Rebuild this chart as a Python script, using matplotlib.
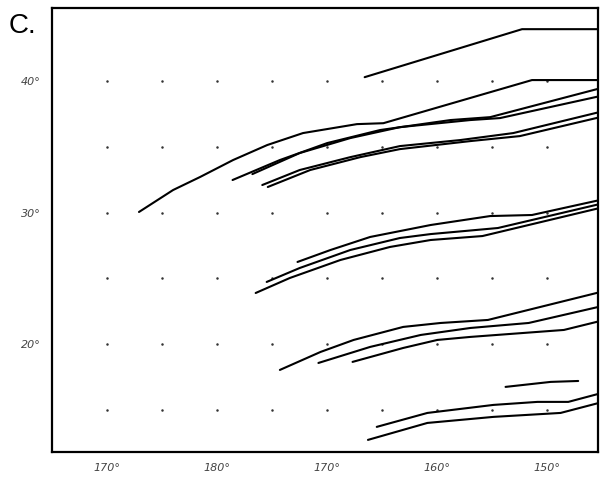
import numpy as np
import matplotlib
matplotlib.use('Agg')
import matplotlib.pyplot as plt

# Longitudes in degrees east (180 = dateline, 190 = 170W ...), latitudes in degrees north
t1_lon = [193.4, 207.7, 215.0]
t1_lat = [40.3, 43.95, 43.95]

t2_lon = [172.9, 176.0, 178.45, 181.45, 184.55, 187.8, 192.7, 195.1, 208.6, 215.0]
t2_lat = [30.05, 31.72, 32.71, 34.0, 35.14, 36.05, 36.73, 36.8, 40.08, 40.08]

t3_lon = [181.4, 185.7, 190.0, 194.8, 201.2, 204.8, 215.0]
t3_lat = [32.48, 34.0, 35.29, 36.28, 37.04, 37.26, 39.5]

t4_lon = [183.2, 187.5, 192.1, 196.6, 203.0, 205.7, 215.0]
t4_lat = [32.93, 34.53, 35.67, 36.5, 37.04, 37.19, 38.9]

t5_lon = [184.1, 187.5, 192.1, 196.6, 202.1, 206.9, 215.0]
t5_lat = [32.1, 33.24, 34.22, 35.06, 35.52, 36.05, 37.7]

t6_lon = [184.6, 188.45, 193.0, 196.6, 203.0, 207.5, 215.0]
t6_lat = [31.95, 33.24, 34.22, 34.83, 35.44, 35.82, 37.3]

l1_lon = [187.3, 190.3, 193.9, 199.4, 204.8, 208.6, 215.0]
l1_lat = [26.25, 27.16, 28.15, 29.06, 29.74, 29.82, 31.0]

l2_lon = [184.5, 187.5, 192.1, 196.6, 199.4, 205.5, 215.0]
l2_lat = [24.73, 25.79, 27.16, 28.07, 28.37, 28.83, 30.7]

l3_lon = [183.5, 186.6, 191.2, 195.7, 199.4, 204.1, 215.0]
l3_lat = [23.89, 25.03, 26.4, 27.39, 27.92, 28.22, 30.4]

m1_lon = [185.7, 189.4, 192.4, 196.9, 200.3, 204.6, 215.0]
m1_lat = [18.04, 19.41, 20.32, 21.31, 21.61, 21.84, 24.0]

m2_lon = [189.2, 193.9, 198.5, 203.0, 208.3, 215.0]
m2_lat = [18.57, 19.79, 20.7, 21.23, 21.61, 22.9]

m3_lon = [192.3, 196.9, 200.0, 203.0, 211.5, 215.0]
m3_lat = [18.65, 19.71, 20.32, 20.55, 21.08, 21.8]

n0_lon = [206.2, 210.3, 212.8]
n0_lat = [16.75, 17.13, 17.2]

n1_lon = [194.5, 199.1, 205.1, 209.1, 211.9, 215.0]
n1_lat = [13.71, 14.77, 15.38, 15.61, 15.61, 16.3]

n2_lon = [193.7, 199.1, 205.1, 211.2, 215.0]
n2_lat = [12.72, 14.01, 14.47, 14.77, 15.6]

tracks = [(t1_lon, t1_lat), (t2_lon, t2_lat), (t3_lon, t3_lat), (t4_lon, t4_lat),
          (t5_lon, t5_lat), (t6_lon, t6_lat), (l1_lon, l1_lat), (l2_lon, l2_lat),
          (l3_lon, l3_lat), (m1_lon, m1_lat), (m2_lon, m2_lat), (m3_lon, m3_lat),
          (n0_lon, n0_lat), (n1_lon, n1_lat), (n2_lon, n2_lat)]

# Tick positions and labels
x_ticks = [170, 180, 190, 200, 210]
x_labels = ['170°', '180°', '170°', '160°', '150°']
y_ticks = [20, 30, 40]
y_labels = ['20°', '30°', '40°']

# Grid dots every 5 degrees
dot_lons = [170, 175, 180, 185, 190, 195, 200, 205, 210]
dot_lats = [15, 20, 25, 30, 35, 40]

fig = plt.figure(figsize=(6, 4.78), dpi=100)
ax = fig.add_axes([0.0867, 0.0544, 0.91, 0.9286])

gx, gy = np.meshgrid(dot_lons, dot_lats)
ax.plot(gx.ravel(), gy.ravel(), linestyle='none', marker='.', markersize=1.6,
        color='#333333')

for lon, lat in tracks:
    ax.plot(lon, lat, color='black', linewidth=1.5, solid_capstyle='round')

ax.set_xlim(165.0, 214.6)
ax.set_ylim(11.8, 45.55)

ax.set_xticks(x_ticks)
ax.set_xticklabels(x_labels, fontsize=8, style='italic', color='#444444')
ax.set_yticks(y_ticks)
ax.set_yticklabels(y_labels, fontsize=8, style='italic', color='#444444')
ax.tick_params(length=0, pad=8)

for s in ax.spines.values():
    s.set_linewidth(1.6)

fig.text(0.015, 0.931, 'C.', fontsize=20, family='Liberation Sans')

plt.savefig('out.png', dpi=100)
